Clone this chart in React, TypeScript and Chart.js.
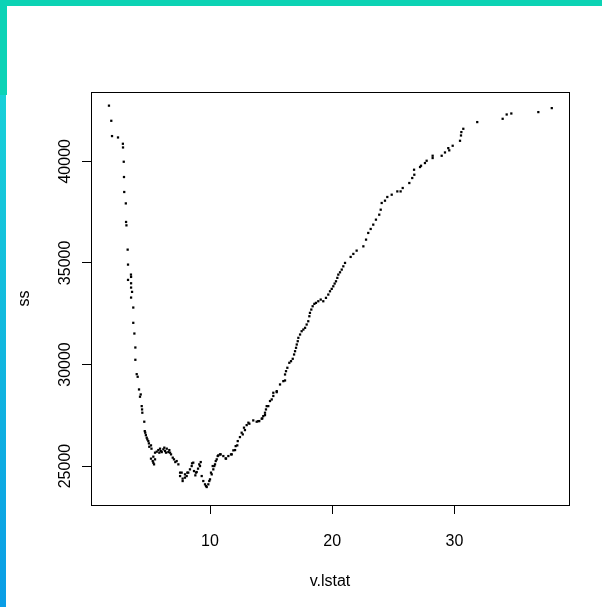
import { useEffect, useRef } from "react";
import { Chart, registerables } from "chart.js";

Chart.register(...registerables);

// candidate split value on lstat
const lstat = [
  1.73, 1.92, 1.98, 2.47, 2.87, 2.88, 2.94, 2.96, 2.98, 3.11, 3.13, 3.16,
  3.26, 3.29, 3.29, 3.53, 3.54, 3.54, 3.54, 3.54, 3.62, 3.72, 3.72, 3.81,
  3.89, 3.89, 4.0, 4.08, 4.19, 4.27, 4.33, 4.41, 4.44, 4.46, 4.62, 4.66,
  4.7, 4.75, 4.82, 4.87, 4.95, 5.0, 5.03, 5.17, 5.17, 5.21, 5.31, 5.36,
  5.36, 5.42, 5.5, 5.5, 5.64, 5.77, 5.85, 5.91, 5.97, 6.05, 6.18, 6.26,
  6.32, 6.4, 6.46, 6.59, 6.67, 6.73, 6.81, 6.95, 7.05, 7.16, 7.27, 7.41,
  7.55, 7.55, 7.68, 7.76, 7.76, 7.95, 7.95, 8.09, 8.14, 8.22, 8.36, 8.5,
  8.53, 8.63, 8.69, 8.8, 8.85, 8.91, 9.02, 9.12, 9.18, 9.24, 9.32, 9.45,
  9.59, 9.67, 9.73, 9.86, 9.94, 10.0, 10.08, 10.14, 10.22, 10.27, 10.35, 10.41,
  10.47, 10.55, 10.63, 10.68, 10.82, 10.87, 11.09, 11.28, 11.31, 11.5, 11.72, 11.78,
  11.91, 12.05, 12.1, 12.23, 12.27, 12.45, 12.59, 12.68, 12.78, 12.86, 13.0, 13.14,
  13.22, 13.54, 13.82, 13.95, 14.03, 14.23, 14.28, 14.36, 14.5, 14.5, 14.58, 14.64,
  14.77, 14.91, 15.05, 15.18, 15.18, 15.46, 15.46, 15.73, 16.0, 16.14, 16.14, 16.22,
  16.33, 16.49, 16.63, 16.77, 16.88, 16.96, 17.04, 17.1, 17.18, 17.23, 17.37, 17.5,
  17.64, 17.78, 17.91, 18.04, 18.13, 18.18, 18.29, 18.4, 18.54, 18.67, 18.86, 19.06,
  19.27, 19.49, 19.68, 19.82, 19.96, 20.09, 20.2, 20.31, 20.42, 20.5, 20.64, 20.78,
  20.91, 21.05, 21.51, 21.73, 22.0, 22.55, 22.77, 22.95, 23.15, 23.36, 23.58, 23.85,
  23.97, 24.05, 24.32, 24.51, 24.87, 25.33, 25.6, 25.77, 26.31, 26.55, 26.7, 26.72,
  27.19, 27.27, 27.59, 27.73, 28.22, 28.22, 28.96, 29.23, 29.5, 29.58, 29.86, 30.46,
  30.54, 30.57, 30.73, 31.87, 33.95, 34.28, 34.66, 36.87, 37.97,
];

// total squared error of the two groups for each split
const ss = [
  42740, 41995, 41242, 41174, 40864, 40682, 39979, 39227, 38490, 37929, 37015, 36848,
  35653, 34916, 34163, 34424, 34310, 33997, 33785, 33293, 33573, 32802, 32050, 31523,
  30835, 30231, 29523, 29395, 28771, 28412, 28525, 27950, 27787, 27625, 27183, 26720,
  26640, 26520, 26396, 26313, 26229, 26116, 25950, 26018, 25364, 25855, 25246, 25165,
  25462, 25084, 25659, 25330, 25708, 25787, 25659, 25855, 25737, 25688, 25821, 25905,
  25737, 25659, 25855, 25688, 25787, 25659, 25575, 25413, 25330, 25197, 25246, 25084,
  24676, 24508, 24676, 24263, 24381, 24430, 24592, 24508, 24676, 24676, 24838, 25000,
  25133, 25167, 24754, 24543, 24676, 24705, 24872, 25084, 25000, 25197, 24508, 24263,
  24100, 24017, 23968, 24100, 24263, 24346, 24676, 24592, 25000, 24838, 25000, 25084,
  25246, 25330, 25492, 25526, 25575, 25575, 25492, 25378, 25364, 25492, 25575, 25575,
  25772, 25787, 25983, 26018, 26229, 26426, 26642, 26558, 26888, 26770, 27016, 27134,
  27084, 27247, 27183, 27213, 27213, 27330, 27345, 27458, 27507, 27625, 27787, 27950,
  27950, 28200, 28279, 28450, 28608, 28638, 28687, 29016, 29179, 29213, 29508, 29670,
  29837, 30083, 30162, 30280, 30491, 30653, 30820, 30983, 31145, 31312, 31474, 31637,
  31720, 31804, 31966, 32128, 32374, 32541, 32703, 32866, 32984, 33033, 33112, 33195,
  33112, 33279, 33441, 33603, 33721, 33849, 33982, 34095, 34262, 34424, 34537, 34670,
  34832, 34999, 35294, 35442, 35604, 35815, 36145, 36474, 36670, 36882, 37128, 37373,
  37619, 37949, 38062, 38244, 38357, 38519, 38519, 38686, 38932, 39178, 39586, 39340,
  39719, 39782, 39915, 40028, 40161, 40274, 40274, 40436, 40650, 40540, 40766, 41011,
  41272, 41439, 41601, 41931, 42093, 42305, 42354, 42423, 42619,
];

const xTicks = [10, 20, 30];
const yTicks = [25000, 30000, 35000, 40000];
const xTitle = "v.lstat";
const yTitle = "ss";

const X_MIN = 0.26;
const X_MAX = 39.38;
const Y_MIN = 23083;
const Y_MAX = 43412;

const FONT = "'Liberation Sans', Arial, Helvetica, sans-serif";

// frame around the plotting region
const boxPlugin = {
  id: "plotBox",
  afterDraw(chart: any) {
    const { ctx, chartArea: a } = chart;
    ctx.save();
    ctx.strokeStyle = "#000";
    ctx.lineWidth = 1;
    ctx.strokeRect(
      Math.round(a.left) + 0.5,
      Math.round(a.top) + 0.5,
      Math.round(a.right - a.left),
      Math.round(a.bottom - a.top)
    );
    ctx.restore();
  },
};

function ScatterPlot() {
  const ref = useRef<HTMLCanvasElement | null>(null);

  useEffect(() => {
    if (!ref.current) return;
    const points = lstat.map((x, i) => ({ x, y: ss[i] }));
    const chart = new Chart(ref.current, {
      type: "scatter",
      data: {
        datasets: [
          {
            data: points,
            pointStyle: "rect",
            pointRadius: 1.6,
            pointBorderWidth: 0,
            backgroundColor: "#000",
            borderColor: "#000",
          },
        ],
      },
      plugins: [boxPlugin],
      options: {
        animation: false,
        responsive: false,
        devicePixelRatio: 1,
        events: [],
        layout: { padding: { left: 0, top: 92, right: 33, bottom: 0 } },
        plugins: {
          legend: { display: false },
          tooltip: { enabled: false },
        },
        scales: {
          x: {
            type: "linear",
            min: X_MIN,
            max: X_MAX,
            afterFit: (s: any) => {
              s.height = 102;
            },
            afterBuildTicks: (s: any) => {
              s.ticks = xTicks.map((v) => ({ value: v }));
            },
            border: { display: false },
            grid: {
              display: true,
              drawOnChartArea: false,
              drawTicks: true,
              tickLength: 9,
              color: "#000",
              lineWidth: 1,
            },
            ticks: {
              font: { family: FONT, size: 16 },
              color: "#000",
              padding: 18,
              maxRotation: 0,
              minRotation: 0,
              autoSkip: false,
              callback: (v: any) => String(v),
            },
            title: {
              display: true,
              text: xTitle,
              font: { family: FONT, size: 16 },
              color: "#000",
              padding: { top: 0, bottom: 16 },
            },
          },
          y: {
            type: "linear",
            min: Y_MIN,
            max: Y_MAX,
            afterFit: (s: any) => {
              s.width = 91;
            },
            afterBuildTicks: (s: any) => {
              s.ticks = yTicks.map((v) => ({ value: v }));
            },
            border: { display: false },
            grid: {
              display: true,
              drawOnChartArea: false,
              drawTicks: true,
              tickLength: 9,
              color: "#000",
              lineWidth: 1,
            },
            ticks: {
              font: { family: FONT, size: 16 },
              color: "#000",
              padding: -6,
              minRotation: 90,
              maxRotation: 90,
              crossAlign: "center",
              autoSkip: false,
              callback: (v: any) => String(v),
            },
            title: {
              display: true,
              text: yTitle,
              font: { family: FONT, size: 16 },
              color: "#000",
              padding: { top: 15, bottom: 0 },
            },
          },
        },
      },
    });
    return () => chart.destroy();
  }, []);

  return (
    <canvas
      ref={ref}
      width={602}
      height={607}
      style={{ position: "absolute", left: 0, top: 0, width: 602, height: 607 }}
    />
  );
}

export default function App() {
  return (
    <div
      style={{
        position: "fixed",
        left: 0,
        top: 0,
        width: 602,
        height: 607,
        background: "#fff",
        overflow: "hidden",
      }}
    >
      <ScatterPlot />
      <div style={{ position: "absolute", left: 0, top: 0, width: 602, height: 6, background: "#0cd3b4" }} />
      <div style={{ position: "absolute", left: 0, top: 0, width: 7, height: 95, background: "#0cd3b6" }} />
      <div
        style={{
          position: "absolute",
          left: 0,
          top: 95,
          width: 6,
          height: 512,
          background: "linear-gradient(#18d0d8, #0a9de6)",
        }}
      />
    </div>
  );
}
